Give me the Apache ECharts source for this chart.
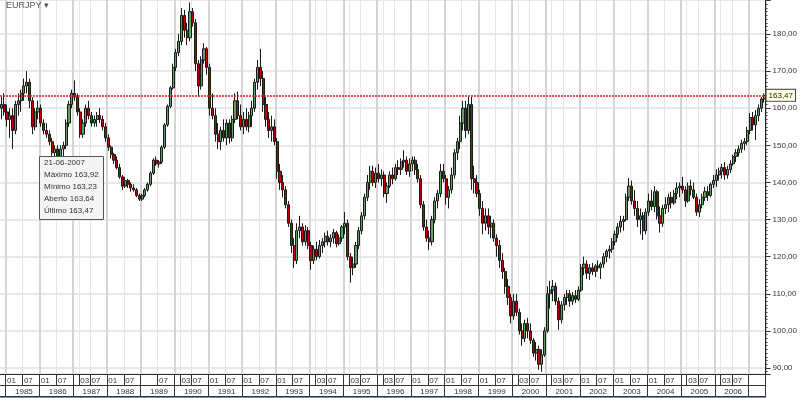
<!DOCTYPE html>
<html>
<head>
<meta charset="utf-8">
<script src="https://cdn.jsdelivr.net/npm/echarts@6/dist/echarts.min.js"></script>
<style>
  html, body { margin: 0; padding: 0; background: #fff; }
  #chart { width: 800px; height: 398px; }
</style>
</head>
<body>
<div id="chart"></div>
<script>
const FONT = '"Liberation Sans", Arial, sans-serif';

// monthly candles, first one is 1984-11
const START = [1984, 11];

const OPEN = [
  160,161,159,157,158,154,161,162,164,166,167,162,155,159,
  160,156,154,153,151,148,149,147,149,150,156,161,
  164,163,159,153,156,160,158,156,157,158,157,155,
  152,149.5,147.5,146,144,141.5,139,140.5,139.5,138.5,138,136.5,
  135.5,136.5,138,139.5,142.5,146,145,145.5,149.5,155.5,160.5,165.5,
  171,175,178,185,181,179,186,183,172,166,173,176,
  171,160,158,153,151,154,152,156,152,157,162,158,
  155,157,155,158,160,167,171,168,161,157,154,155,
  151,143,140,138,134,129,123,119,127,128,124,127,
  123,119,122,120,123,124,125.5,124,125,126.5,123.5,125,
  128,129,120,117,118,123,127,131,136,140,143,140,
  142.5,141,142,137,139,142,141,144,143.5,145.5,146,143,
  145,146,143.5,141,134,128,125,124,130,135,137,143,
  141,136,138,142,148,151,156,160,154,161,141,140,
  137,133,129,131,128,129,125,123,119,116,112,109,
  104,108,105,100,98,102,100,97.5,94,95,91,93.5,
  100,110,111,112,108,103,107,109,110,108,109.5,108.5,
  111,117,118,115.5,117,116,117.5,117,118,120,121.5,122,
  124,126,128,129.5,130,136,139,135,133,130,131,127,
  132,135,133.5,137.5,131,129,133,134,136,134.5,137,138.5,
  139,138,135,139,138,136,132,134,136,137.5,136.5,139.5,
  140.5,142,143,144,142,143.5,145,147,148,149,150.5,151,
  154,157.5,155.5,158,160,162.5
];

const CLOSE = [
  161,159,157,158,154,161,162,164,166,167,162,155,159,160,
  156,154,153,151,148,149,147,149,150,156,161,164,
  163,159,153,156,160,158,156,157,158,157,155,152,
  149.5,147.5,146,144,141.5,139,140.5,139.5,138.5,138,136.5,135.5,
  136.5,138,139.5,142.5,146,145,145.5,149.5,155.5,160.5,165.5,171,
  175,178,185,181,179,186,183,172,166,173,176,171,
  160,158,153,151,154,152,156,152,157,162,158,155,
  157,155,158,160,167,171,168,161,157,154,155,151,
  143,140,138,134,129,123,119,127,128,124,127,123,
  119,122,120,123,124,125.5,124,125,126.5,123.5,125,128,
  129,120,117,118,123,127,131,136,140,143,140,142.5,
  141,142,137,139,142,141,144,143.5,145.5,146,143,145,
  146,143.5,141,134,128,125,124,130,135,137,143,141,
  136,138,142,148,151,156,160,154,161,141,140,137,
  133,129,131,128,129,125,123,119,116,112,109,104,
  108,105,100,98,102,100,97.5,94,95,91,93.5,100,
  110,111,112,108,103,107,109,110,108,109.5,108.5,111,
  117,118,115.5,117,116,117.5,117,118,120,121.5,122,124,
  126,128,129.5,130,136,139,135,133,130,131,127,132,
  135,133.5,137.5,131,129,133,134,136,134.5,137,138.5,139,
  138,135,139,138,136,132,134,136,137.5,136.5,139.5,140.5,
  142,143,144,142,143.5,145,147,148,149,150.5,151,154,
  157.5,155.5,158,160,162.5,163.47
];

const LOW = [
  157,158,155,152,149,153,158,159,162,164,160,153,154,157,
  155,153,152,150,147,146,146,146,147,149,155,160,
  162,158,152,152,155,157,155,155,155,156,154,151,
  148.5,146.5,145,143.5,141,138,138.5,138.5,137.5,137.5,136,135,
  135,136,137.5,139,142,144.5,144,145,149,155,160,165,
  170,174,177,179,177,178,182,170,163,165,172,169,
  158,157,151,149,148.7,151,150,150.5,151,156,157,154,
  153,154,153.5,155,159,165,166,159,155,152,151,150,
  141,138,136,133,128,121,117,118,125,123,123,122,
  116.5,118,119,119.5,121,122.5,123,122.5,123.5,122.5,123,124,
  126,119,113,115,117,122,126,130,135,138,139,138.5,
  140,139,136,134.5,138.5,139.5,140.5,142,142,144,142,141.5,
  143,142,140,133,127,124,121.8,123,129,133,136,140,
  134,133,137,141,146,149,154,152,153,138,137,136,
  131,126,127,126,125,124,120,117,114,110,107,102,
  103,104,99,96,97,98,96.5,93,92,89.5,89,93,
  99.5,106,108,107,100.3,102,105.5,107,106.5,107,107.5,108,
  110.5,115,114,113.7,115,114.5,116,114,117,118.5,119.5,121,
  123,125,126.5,127,129.5,135,134,131,128,126,124.5,126,
  131,132.5,132,130,126.5,128,131.5,132,133,134,135.5,136,
  137,133.4,134.5,136.5,135.5,131,130.7,133,135,135,136,138.5,
  138.8,140.5,141,140.7,141,142.5,144.5,145.5,147,148,148.7,150,
  153,154,151.4,156.5,159,161.5
];

const HIGH = [
  163,164,161,160,160,162,164,165,168,170,168,163,160,162,
  161,157,156,154,152,150,150,150,151,157,162,165,
  167.5,164,160,157,161,162,159,158,159,160,158,156,
  153,150,148,147,145,142,141.5,141,140,139.5,138.5,137,
  137,138.5,140,143,146.5,147,146,150,156,161,166,172,
  176,180,187,186.5,183,188.5,187,184,173,174,177.5,176.5,
  172,164,160,156,155,157,157,157,158,164,164.5,161,
  159,160,159,162,168,173,176,170,163,159,158,157,
  152,145,142,139,135,130,125,129,131,129,128.5,128,
  124,123,124,124.5,125,126.5,127,126,127.5,127,126,128.5,
  132,130,121,120,124,128,132,137,142,144.5,144.5,144,
  145,143.5,143,140,143,144,145,146,146.5,148.7,147,146.5,
  147,147,145,142,135,130,127,131,136,138,145,145,
  142,139,144,149,152,158,162,162,163,163,144.5,142,
  138,135,133,133,131,130,126,124.5,121,117,114,110,
  110,110,106,102,103,103.5,102,98,97,96,95,101,
  112,113.5,113.7,113,109,108,110,111,111,110.5,111,112,
  118,120,119,118,118.3,118,119,118.5,121,122,123,125,
  127,129,131,131,137,141.2,140.5,138,135,133,132,133,
  137,138,139,138,133.5,134,136,137,137.5,138,140,140,
  141.5,139,140,140.7,140,137,135.5,137,138.8,139,140,142,
  143.5,144,145,145.5,144.5,146,147.5,149,150,151.5,152,155,
  158.7,159,159.5,161,163,164
];

// x axis labels: year row and the first month label shown in each year
const YEARS = ['1985','1986','1987','1988','1989','1990','1991','1992','1993','1994','1995',
  '1996','1997','1998','1999','2000','2001','2002','2003','2004','2005','2006'];
const FIRST_MONTH = ['01','01','03','01','','03','01','01','01','03','03',
  '03','01','01','01','03','03','01','01','01','03','03'];
const MID_MONTH = '07';

const LAST_PRICE = 163.47;
const INFO_DATE = '21-06-2007';
const INFO_NAMES = ['Máximo', 'Mínimo', 'Aberto', 'Último'];
const INFO_VALUES = [163.92, 163.23, 163.64, 163.47];

const fmt = v => v.toFixed(2).replace('.', ',');

const categories = [];
let yy = START[0], mm = START[1];
for (let i = 0; i < OPEN.length; i++) {
  categories.push(yy + '-' + String(mm).padStart(2, '0'));
  mm++;
  if (mm > 12) { mm = 1; yy++; }
}
const candles = OPEN.map((o, i) => [o, CLOSE[i], LOW[i], HIGH[i]]);

function monthLabel(cat) {
  const k = YEARS.indexOf(cat.slice(0, 4));
  if (k < 0) return null;
  const m = cat.slice(5);
  const first = FIRST_MONTH[k];
  if (m === (first || '01')) return first;
  if (m === MID_MONTH) return MID_MONTH;
  return null;
}
const isJan = c => c.slice(5) === '01';

const chart = echarts.init(document.getElementById('chart'));

chart.setOption({
  animation: false,
  backgroundColor: '#fff',
  textStyle: { fontFamily: FONT },
  title: [
    {
      text: 'EURJPY ▾',
      left: 5, top: 0, padding: 1,
      textStyle: { fontSize: 9, color: '#555', fontWeight: 'normal', fontFamily: FONT },
    },
    {
      text: [INFO_DATE].concat(INFO_NAMES.map((n, i) => n + ' ' + fmt(INFO_VALUES[i]))).join('\n'),
      left: 39, top: 156,
      padding: [1, 5, 3, 5],
      backgroundColor: '#f4f4f4',
      borderColor: '#555',
      borderWidth: 1,
      textStyle: { fontSize: 8, lineHeight: 12, color: '#333', fontWeight: 'normal', fontFamily: FONT },
    },
  ],
  grid: { left: 0, right: 32, top: 0, bottom: 24 },
  xAxis: [
    {
      type: 'category', data: categories, position: 'bottom',
      axisLine: { lineStyle: { color: '#333', width: 1 } },
      axisTick: {
        show: true,
        interval: (i, v) => isJan(v) || monthLabel(v) !== null,
        length: 11, lineStyle: { color: '#333', width: 1 },
      },
      axisLabel: {
        interval: (i, v) => !!monthLabel(v),
        formatter: v => monthLabel(v) || '',
        align: 'left', margin: 3, fontSize: 8, color: '#333', fontFamily: FONT,
      },
      splitLine: {
        show: true,
        interval: (i, v) => monthLabel(v) !== null,
        lineStyle: { color: '#e6e6e6', width: 1 },
      },
    },
    {
      type: 'category', data: categories, position: 'bottom', offset: 11,
      axisLine: { lineStyle: { color: '#333', width: 1 } },
      axisTick: {
        show: true,
        interval: (i, v) => isJan(v),
        length: 11, lineStyle: { color: '#333', width: 1 },
      },
      axisLabel: {
        interval: (i, v) => v.slice(5) === MID_MONTH && YEARS.includes(v.slice(0, 4)),
        formatter: v => v.slice(0, 4),
        margin: 3, fontSize: 8, color: '#333', fontFamily: FONT,
      },
      splitLine: {
        show: true,
        interval: (i, v) => isJan(v),
        lineStyle: { color: '#d4d4d4', width: 2 },
      },
    },
    {
      type: 'category', data: categories, position: 'bottom', offset: 22,
      axisLine: { lineStyle: { color: '#333', width: 1 } },
      axisTick: { show: false }, axisLabel: { show: false },
    },
    {
      type: 'category', data: categories, position: 'bottom', offset: 24,
      axisLine: { lineStyle: { color: '#6f8fd8', width: 2 } },
      axisTick: { show: false }, axisLabel: { show: false },
    },
  ],
  yAxis: {
    type: 'value', position: 'right',
    min: 88.38, max: 189.16, splitNumber: 10,
    axisLine: { show: true, lineStyle: { color: '#222' } },
    axisTick: { show: true, length: 5, lineStyle: { color: '#333' } },
    minorTick: { show: true, splitNumber: 10, length: 2, lineStyle: { color: '#444' } },
    axisLabel: {
      margin: 7, fontSize: 8, color: '#333', fontFamily: FONT,
      showMinLabel: false, showMaxLabel: false,
      formatter: v => (Math.abs(v % 10) < 1e-6 ? fmt(v) : ''),
    },
    splitLine: { lineStyle: { color: '#e0e0e0', width: 1.5 } },
  },
  series: [
    {
      type: 'candlestick',
      data: candles,
      barWidth: 2.6,
      itemStyle: {
        color: '#5f9f5f', color0: '#c00000',
        borderColor: '#1a1a1a', borderColor0: '#1a1a1a', borderWidth: 1,
      },
      markLine: {
        silent: true,
        symbol: ['none', 'none'],
        data: [{ yAxis: LAST_PRICE }],
        lineStyle: { color: '#e8161a', type: [2, 1], width: 1.5 },
        label: {
          position: 'end', distance: 1,
          formatter: fmt(LAST_PRICE),
          backgroundColor: '#ffffe4', borderColor: '#444', borderWidth: 1,
          padding: [2, 2, 1, 2], fontSize: 8, color: '#222', fontFamily: FONT,
        },
      },
    },
  ],
});
</script>
</body>
</html>
